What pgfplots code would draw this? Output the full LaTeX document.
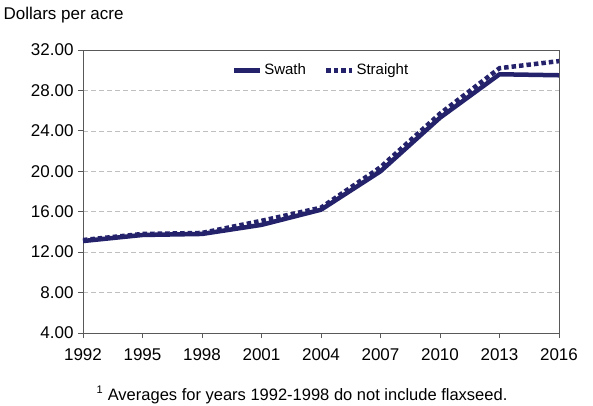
\documentclass[border=0pt]{standalone}
\usepackage{pgfplots}
\pgfplotsset{compat=1.18}
\usepackage{fontspec}
\setmainfont{Liberation Sans}
\definecolor{navy}{HTML}{23226B}
\begin{document}
\begin{tikzpicture}
\useasboundingbox (-83pt,-72pt) rectangle (510pt,333pt);
\begin{axis}[
  at={(0,0)}, anchor=south west,
  scale only axis, width=476pt, height=283pt,
  xmin=1992, xmax=2016, ymin=4, ymax=32,
  xtick={1992,1995,...,2016},
  ytick={4,8,...,32},
  /pgf/number format/assume math mode=true,
  x tick label style={/pgf/number format/1000 sep={}, font=\fontsize{17}{19}\selectfont, yshift=-7pt},
  y tick label style={/pgf/number format/.cd, fixed, fixed zerofill, precision=2, /tikz/.cd, font=\fontsize{17}{19}\selectfont, xshift=-1pt},
  tick align=outside, major tick length=5pt,
  xtick pos=bottom, ytick pos=left,
  axis line style={draw=gray!70!black, line width=0.8pt},
  tick style={draw=gray!70!black, line width=0.8pt},
  ymajorgrids, grid style={dash pattern=on 5pt off 3pt, gray!50, line width=0.6pt},
  legend style={at={(0.5,0.965)}, anchor=north, draw=none, fill=none, legend columns=2,
    font=\fontsize{15}{17}\selectfont, /tikz/every even column/.append style={column sep=16pt}},
  legend image code/.code={\draw[#1] (0pt,0pt) -- (26pt,0pt);},
]
\addplot[navy, line width=4.5pt, line join=round] coordinates {
(1992,13.1) (1995,13.7) (1998,13.8) (2001,14.7) (2004,16.2) (2007,20.0) (2010,25.3) (2013,29.6) (2016,29.5)};
\addlegendentry{Swath}
\addplot[navy, line width=4.5pt, dash pattern=on 4.5pt off 3pt] coordinates {
(1992,13.2) (1995,13.8) (1998,13.9) (2001,15.1) (2004,16.4) (2007,20.4) (2010,25.7) (2013,30.2) (2016,30.9)};
\addlegendentry{Straight}
\end{axis}
\node[anchor=west, font=\fontsize{17}{19}\selectfont] at (-83pt,318pt) {Dollars per acre};
\node[font=\fontsize{16.5}{18}\selectfont] at (219pt,-62pt) {\textsuperscript{\fontsize{11}{12}\selectfont 1} Averages for years 1992-1998 do not include flaxseed.};
\end{tikzpicture}
\end{document}
